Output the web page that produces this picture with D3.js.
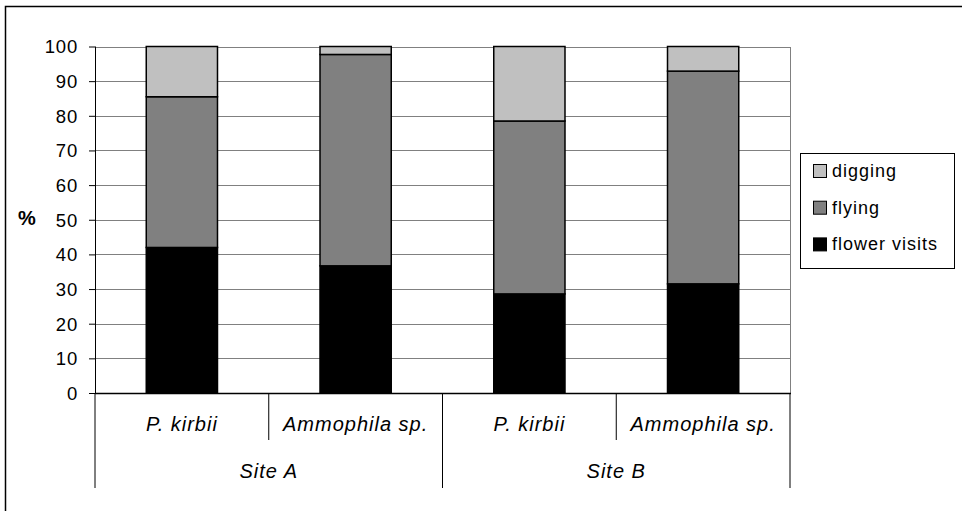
<!DOCTYPE html>
<html><head><meta charset="utf-8">
<script src="https://cdn.jsdelivr.net/npm/d3@7/dist/d3.min.js"></script>
<style>body{margin:0;background:#fff}svg{display:block}</style>
</head><body><svg id="c" width="962" height="511"></svg>
<script>
const species = ["P. kirbii", "Ammophila sp.", "P. kirbii", "Ammophila sp."];
const sites = ["Site A", "Site B"];
const flowerVisits = [42.0, 36.7, 28.6, 31.5];
const flying = [43.5, 61.0, 49.9, 61.4];
const digging = [14.5, 2.3, 21.5, 7.1];
const yTicks = [0,10,20,30,40,50,60,70,80,90,100];
const seriesNames = ["flower visits", "flying", "digging"];
const seriesColors = ["#000000", "#808080", "#c0c0c0"];

const svg = d3.select("#c");
const font = "'Liberation Sans', Arial, sans-serif";
const L = 95, R = 790, T = 46.5, B = 393;
const idx = species.map((d,i)=>i);
const x = d3.scaleBand().domain(idx).range([L, R]).paddingInner(0.59).paddingOuter(0.295);
const xCat = d3.scaleBand().domain(idx).range([L, R]);
const y = d3.scaleLinear().domain([0,100]).range([B, T]);

// outer border
svg.append("rect").attr("x",5.5).attr("y",6.5).attr("width",1000).attr("height",1000)
  .attr("fill","none").attr("stroke","#000").attr("stroke-width",1.5);

// gridlines
svg.append("g").selectAll("line").data(yTicks.filter(t=>t>0)).join("line")
  .attr("x1",L).attr("x2",R).attr("y1",d=>Math.round(y(d))+0.5).attr("y2",d=>Math.round(y(d))+0.5)
  .attr("stroke","#808080").attr("stroke-width",1);
// right plot edge
svg.append("line").attr("x1",R+0.5).attr("x2",R+0.5).attr("y1",Math.round(T)).attr("y2",B)
  .attr("stroke","#808080");

// stacked data
const rows = idx.map(i=>({i, "flower visits":flowerVisits[i], flying:flying[i], digging:digging[i]}));
const stack = d3.stack().keys(seriesNames)(rows);
svg.append("g").selectAll("g").data(stack).join("g")
  .attr("fill",(d,k)=>seriesColors[k])
  .selectAll("rect").data(d=>d).join("rect")
  .attr("x",d=>x(d.data.i)).attr("width",x.bandwidth())
  .attr("y",d=>y(d[1])).attr("height",d=>y(d[0])-y(d[1]))
  .attr("stroke","#000").attr("stroke-width",1.5);

// y axis
const yAxis = svg.append("g").attr("transform",`translate(${L},0)`)
  .call(d3.axisLeft(y).tickValues(yTicks).tickSize(6).tickPadding(11));
yAxis.select(".domain").attr("stroke","#000").attr("d",`M0.5,${y(100)}V${B}`);
yAxis.selectAll(".tick line").attr("stroke","#000");
yAxis.selectAll("text").attr("font-family",font).attr("font-size",18.5)
  .attr("letter-spacing","0.8px").attr("fill","#000").attr("dy","0.35em");

// x axis line
svg.append("line").attr("x1",L).attr("x2",R+1).attr("y1",B+0.5).attr("y2",B+0.5).attr("stroke","#000").attr("stroke-width",1.5);

// category dividers
const inner = [1,3];
const outer = [0,2,4];
svg.append("g").selectAll("line").data(inner).join("line")
  .attr("x1",d=>xCat(d)).attr("x2",d=>xCat(d)).attr("y1",B).attr("y2",440)
  .attr("stroke","#000");
svg.append("g").selectAll("line").data(outer).join("line")
  .attr("x1",d=>d<4?xCat(d):R).attr("x2",d=>d<4?xCat(d):R).attr("y1",B).attr("y2",488)
  .attr("stroke","#000");

// category labels
svg.append("g").selectAll("text").data(idx).join("text")
  .attr("x",d=>xCat(d)+xCat.bandwidth()/2).attr("y",431)
  .attr("text-anchor","middle").attr("font-family",font).attr("font-size",20)
  .attr("letter-spacing","1px")
  .attr("font-style","italic").text(d=>species[d]);
svg.append("g").selectAll("text").data(sites).join("text")
  .attr("x",(d,k)=>(xCat(k*2)+xCat(k*2+1)+xCat.bandwidth())/2).attr("y",478)
  .attr("text-anchor","middle").attr("font-family",font).attr("font-size",20)
  .attr("letter-spacing","1px")
  .attr("font-style","italic").text(d=>d);

// y label
svg.append("text").attr("x",27).attr("y",225).attr("text-anchor","middle")
  .attr("font-family",font).attr("font-size",20).attr("font-weight","bold").text("%");

// legend
const lg = svg.append("g");
lg.append("rect").attr("x",800.5).attr("y",153.5).attr("width",154).attr("height",115)
  .attr("fill","#fff").attr("stroke","#000");
const legendOrder = [2,1,0];
lg.selectAll("g").data(legendOrder).join("g")
  .attr("transform",(d,k)=>`translate(0,${k*36.7})`)
  .each(function(d){
    const g = d3.select(this);
    g.append("rect").attr("x",813.5).attr("y",164.5).attr("width",13).attr("height",13)
      .attr("fill",seriesColors[d]).attr("stroke","#000").attr("stroke-width",1);
    g.append("text").attr("x",832).attr("y",177).attr("font-family",font).attr("font-size",18)
      .attr("letter-spacing","1px")
      .text(seriesNames[d]);
  });
</script></body></html>
